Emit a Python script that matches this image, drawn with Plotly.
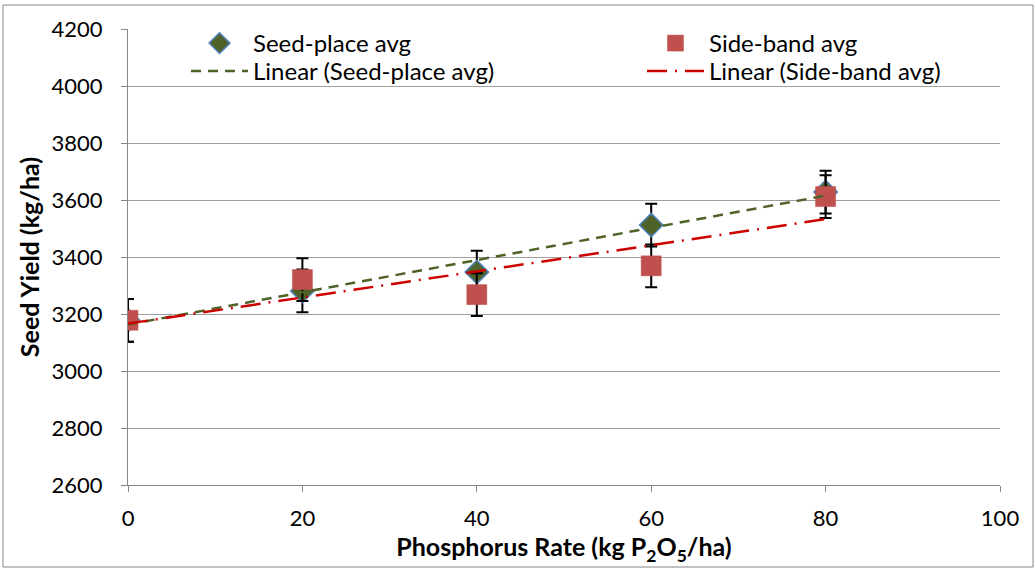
import numpy as np
import plotly.graph_objects as go

rates = [0, 20, 40, 60, 80]
seed_place = [3178, 3281, 3347, 3512, 3628]
side_band = [3178, 3321, 3268, 3369, 3612]
seed_err = [75, 75, 75, 75, 75]
side_err = [75, 75, 75, 75, 75]
y_ticks = [2600, 2800, 3000, 3200, 3400, 3600, 3800, 4000, 4200]
x_ticks = [0, 20, 40, 60, 80, 100]

FONT = "Lato"
W, H = 1035, 569
ML, MR, MT, MB = 128, 35, 29, 84
PW, PH = W - ML - MR, H - MT - MB

xs = np.array(rates, dtype=float)
s1 = np.polyfit(xs, seed_place, 1)
s2 = np.polyfit(xs, side_band, 1)

fig = go.Figure()
fig.add_trace(go.Scatter(
    x=rates, y=seed_place, mode="markers", name="Seed-place avg", legend="legend",
    marker=dict(symbol="diamond", size=18, color="#4f6228",
                line=dict(color="#4f81bd", width=1.5)),
    error_y=dict(type="data", array=seed_err, color="black", thickness=2, width=6),
))
fig.add_trace(go.Scatter(
    x=rates, y=side_band, mode="markers", name="Side-band avg", legend="legend2",
    marker=dict(symbol="square", size=20, color="#c0504d",
                line=dict(color="#c0504d", width=0.5)),
    error_y=dict(type="data", array=side_err, color="black", thickness=2, width=6),
))
fig.add_trace(go.Scatter(
    x=[xs[0], xs[-1]], y=np.polyval(s1, [xs[0], xs[-1]]), mode="lines",
    name="Linear (Seed-place avg)", legend="legend3",
    line=dict(color="#4f6228", width=2.5, dash="10px,7px"),
))
fig.add_trace(go.Scatter(
    x=[xs[0], xs[-1]], y=np.polyval(s2, [xs[0], xs[-1]]), mode="lines",
    name="Linear (Side-band avg)", legend="legend4",
    line=dict(color="#cc0000", width=2.5, dash="20px,8px,2px,8px"),
))

def px2paper_x(p):
    return (p - ML) / PW

def px2paper_y(p):
    return (H - MB - p) / PH

leg_common = dict(
    orientation="v", xanchor="left", yanchor="top",
    font=dict(family=FONT, size=24), bgcolor="rgba(0,0,0,0)",
    traceorder="normal", itemwidth=57, tracegroupgap=0,
)

fig.update_layout(
    width=W, height=H,
    margin=dict(l=ML, r=MR, t=MT, b=MB),
    paper_bgcolor="white", plot_bgcolor="white",
    font=dict(family=FONT, size=22, color="black"),
    showlegend=True,
    legend=dict(x=px2paper_x(186), y=px2paper_y(21), **leg_common),
    legend2=dict(x=px2paper_x(642), y=px2paper_y(21), **leg_common),
    legend3=dict(x=px2paper_x(186), y=px2paper_y(49), **leg_common),
    legend4=dict(x=px2paper_x(642), y=px2paper_y(49), **leg_common),
    xaxis=dict(
        range=[0, 100], tickvals=x_ticks, ticks="outside", ticklen=6,
        tickcolor="#868686", showline=True, linecolor="#868686", linewidth=1,
        showgrid=False, zeroline=False, ticklabelstandoff=8,
        tickfont=dict(size=22),
        title=dict(text="<b>Phosphorus Rate (kg P<sub>2</sub>O<sub>5</sub>/ha)</b>",
                   font=dict(size=25), standoff=4),
    ),
    yaxis=dict(
        range=[2600, 4200], tickvals=y_ticks, ticks="outside", ticklen=6,
        tickcolor="#868686", showline=True, linecolor="#868686", linewidth=1,
        showgrid=True, gridcolor="#a0a0a0", gridwidth=1, zeroline=False,
        ticklabelstandoff=14, tickfont=dict(size=22),
        title=dict(text="<b>Seed Yield (kg/ha)</b>", font=dict(size=25), standoff=4),
    ),
    shapes=[dict(
        type="rect", xref="paper", yref="paper",
        x0=px2paper_x(3), x1=px2paper_x(1033), y0=px2paper_y(567), y1=px2paper_y(5),
        line=dict(color="#868686", width=1), fillcolor="rgba(0,0,0,0)", layer="below",
    )],
)

fig.write_html("out.html")
